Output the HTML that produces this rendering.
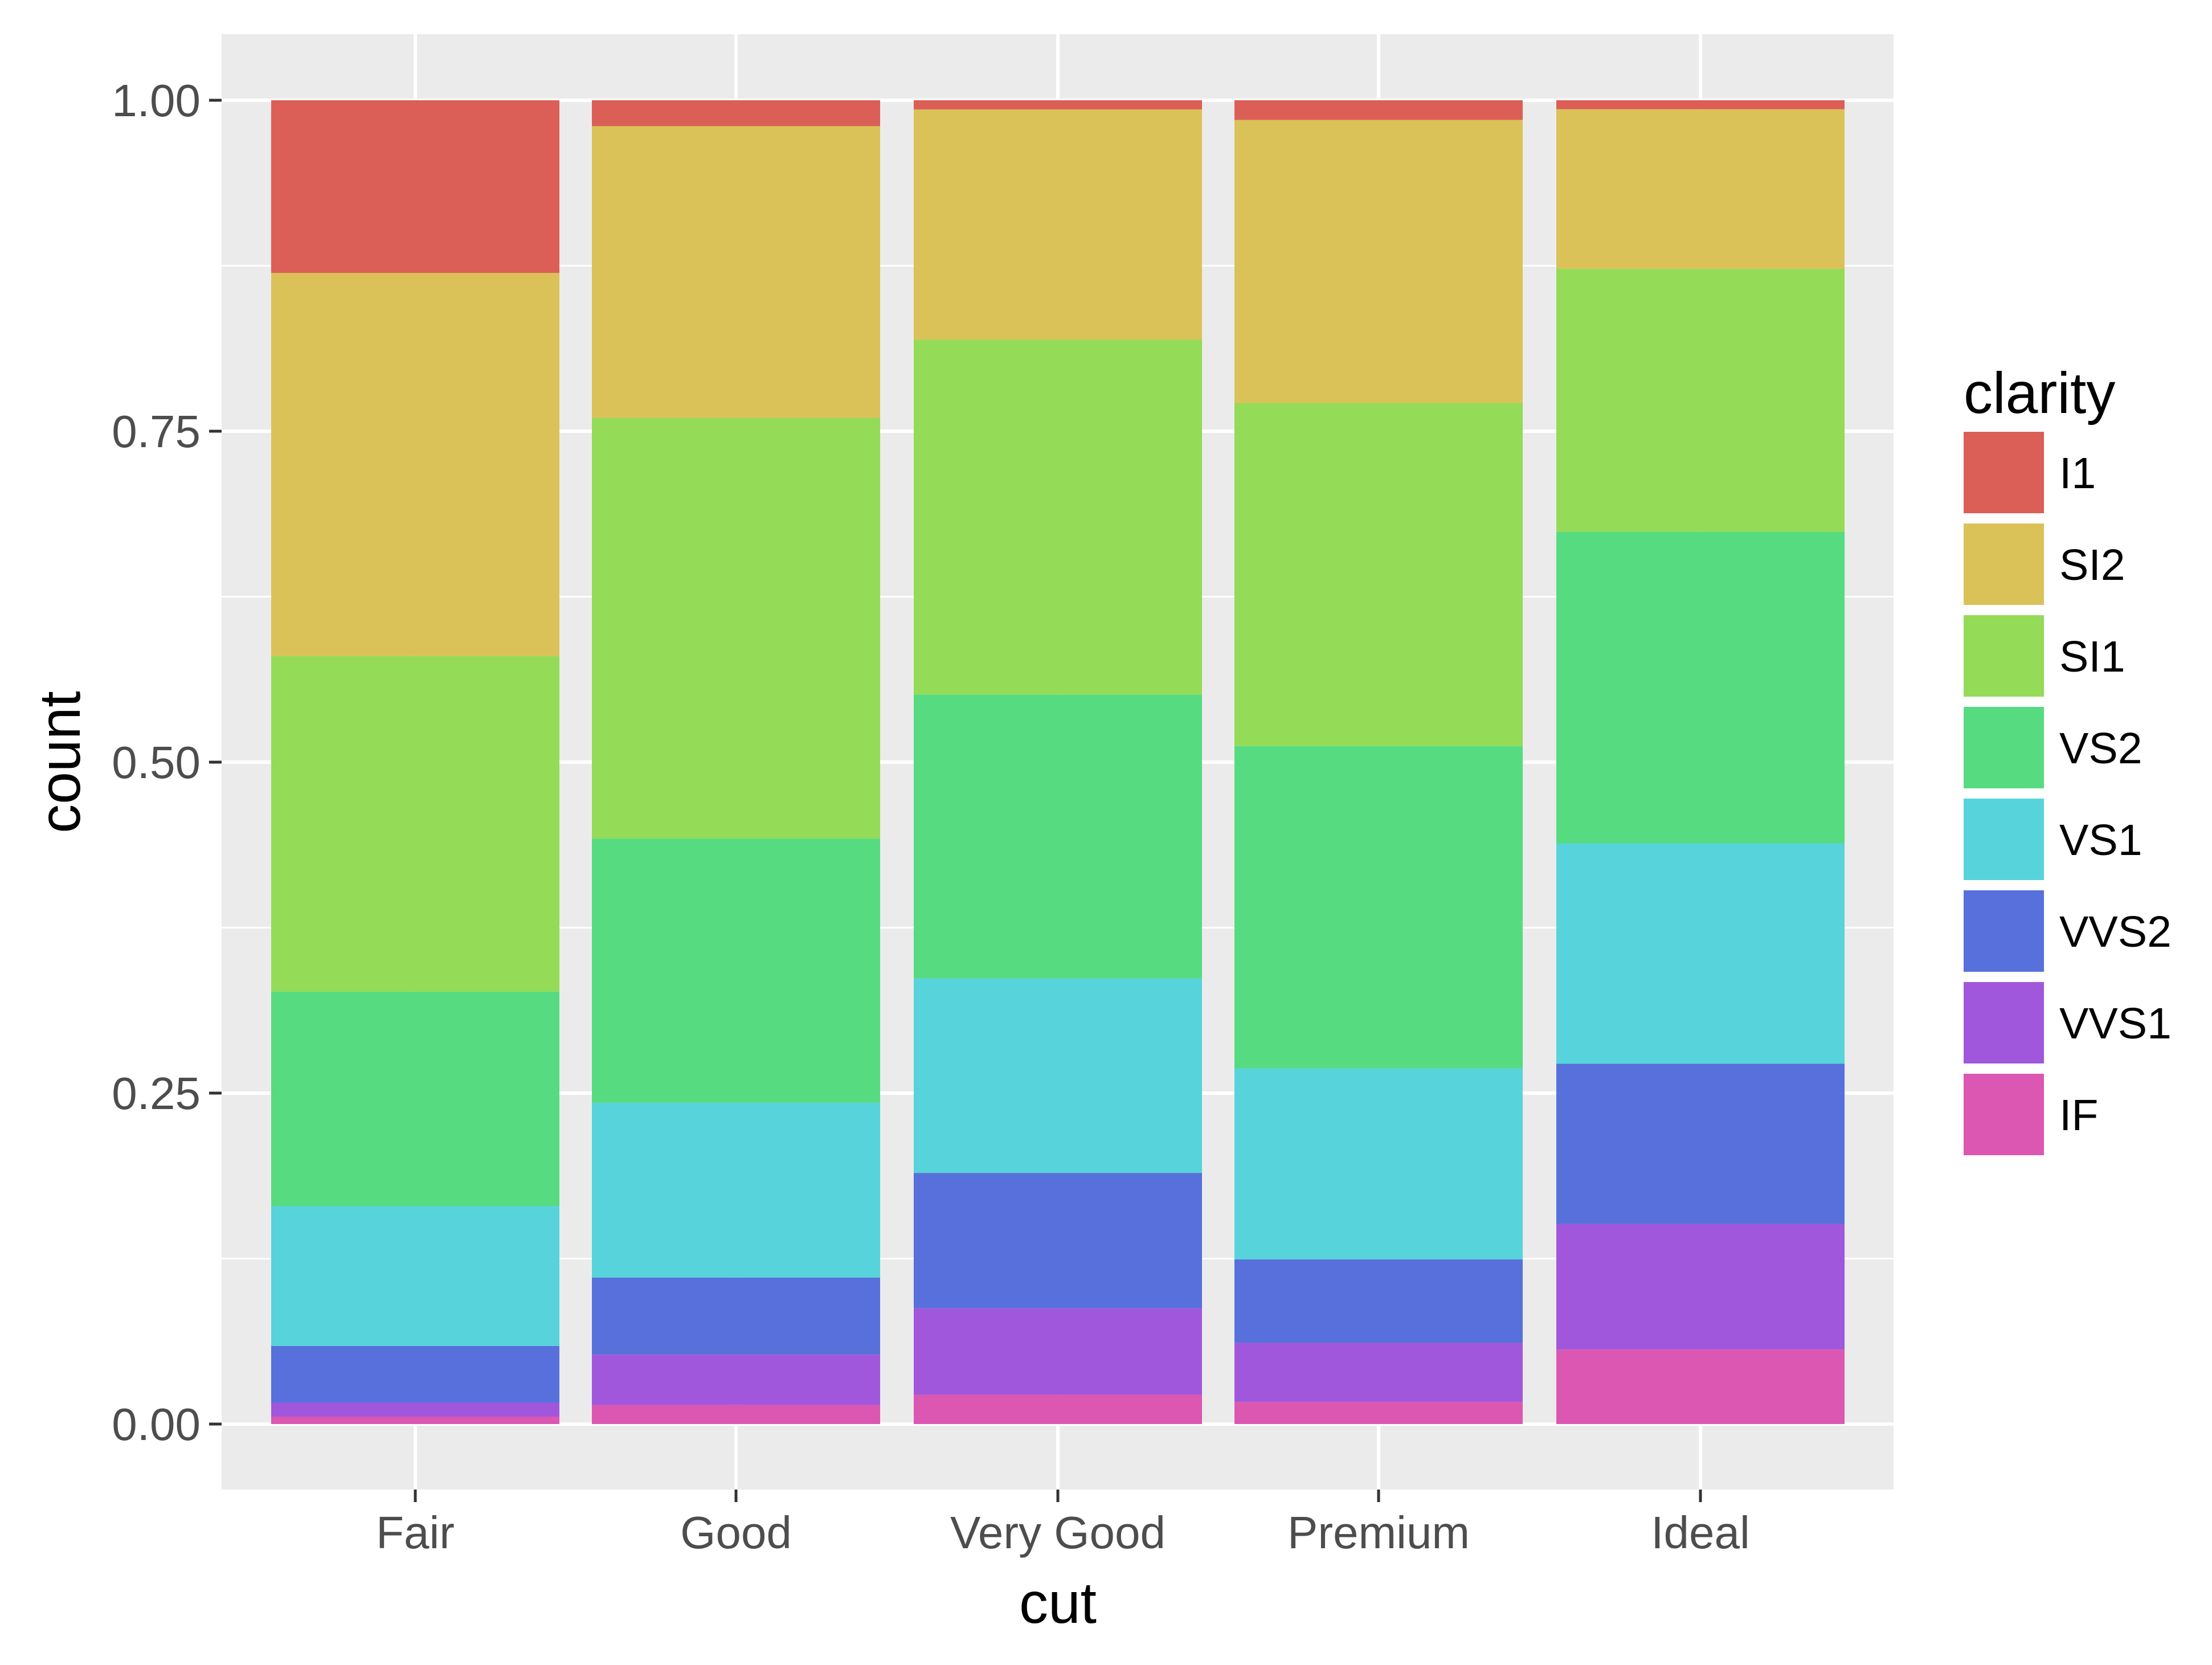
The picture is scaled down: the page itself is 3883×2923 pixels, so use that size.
<!DOCTYPE html>
<html><head><meta charset="utf-8"><style>
html,body{margin:0;padding:0;background:#fff;}
svg{display:block;}
text{font-family:"Liberation Sans",Arial,sans-serif;}
</style></head><body>
<svg id="s" width="3883" height="2923" viewBox="0 0 3883 2923" xmlns="http://www.w3.org/2000/svg">
<rect x="0" y="0" width="3883" height="2923" fill="#fff"/>
<rect x="389" y="60" width="2935" height="2555" fill="#EBEBEB"/>
<g id="grid"></g>
<g id="bars"></g>
<g fill="#4D4D4D" font-size="80" text-anchor="end">
<text x="352" y="2528">0.00</text>
<text x="352" y="1947">0.25</text>
<text x="352" y="1366">0.50</text>
<text x="352" y="785">0.75</text>
<text x="352" y="204">1.00</text>
</g>
<g fill="#4D4D4D" font-size="80" text-anchor="middle">
<text x="729" y="2718">Fair</text>
<text x="1292" y="2718">Good</text>
<text x="1857" y="2718">Very Good</text>
<text x="2420" y="2718">Premium</text>
<text x="2985" y="2718">Ideal</text>
</g>
<text x="1857" y="2849" font-size="102" text-anchor="middle" fill="#000">cut</text>
<text transform="translate(140,1338) rotate(-90)" font-size="102" text-anchor="middle" fill="#000">count</text>
<text x="3447" y="725" font-size="102" fill="#000">clarity</text>
<g id="legend" font-size="77" fill="#000"></g>
</svg>
<script>
var ns="http://www.w3.org/2000/svg";
function el(p,t,a,txt){var e=document.createElementNS(ns,t);for(var k in a)e.setAttribute(k,a[k]);if(txt)e.textContent=txt;p.appendChild(e);return e;}
var y0=2500,H=2324,L=389,R=3324;
var g=document.getElementById("grid");
for(var i=0;i<4;i++){var v=0.125+0.25*i;var y=y0-H*v;el(g,"line",{x1:L,x2:R,y1:y,y2:y,stroke:"#fff","stroke-width":3});}
for(var i=0;i<5;i++){var y=y0-H*0.25*i;el(g,"line",{x1:L,x2:R,y1:y,y2:y,stroke:"#fff","stroke-width":6});
 el(g,"line",{x1:367,x2:389,y1:y,y2:y,stroke:"#333","stroke-width":5});}
var cx=[729,1292,1857,2420,2985];
cx.forEach(function(x){el(g,"line",{x1:x,x2:x,y1:60,y2:2615,stroke:"#fff","stroke-width":6});
 el(g,"line",{x1:x,x2:x,y1:2615,y2:2637,stroke:"#333","stroke-width":5});});
var cols=["#DB5F57","#DBC258","#94DB58","#57DB80","#57D3DB","#5770DB","#A157DB","#DB57B2"];
var names=["I1","SI2","SI1","VS2","VS1","VVS2","VVS1","IF"];
var d=[[210,466,408,261,170,69,17,9],[96,1081,1560,978,648,286,186,71],[84,2100,3240,2591,1775,1235,789,268],[205,2949,3575,3357,1989,870,616,230],[146,2598,4282,5071,3589,2606,2047,1212]];
var b=document.getElementById("bars");
d.forEach(function(r,j){var tot=r.reduce(function(a,c){return a+c},0);var cum=0;
 for(var k=7;k>=0;k--){var yb=y0-H*cum/tot;cum+=r[k];var yt=y0-H*cum/tot;
  el(b,"rect",{x:cx[j]-253,y:yt,width:506,height:yb-yt,fill:cols[k]});}});
var lg=document.getElementById("legend");
for(var k=0;k<8;k++){var y=758+161*k;el(lg,"rect",{x:3447,y:y,width:141,height:143,fill:cols[k]});
 el(lg,"text",{x:3615,y:y+99},names[k]);}
</script>
</body></html>
